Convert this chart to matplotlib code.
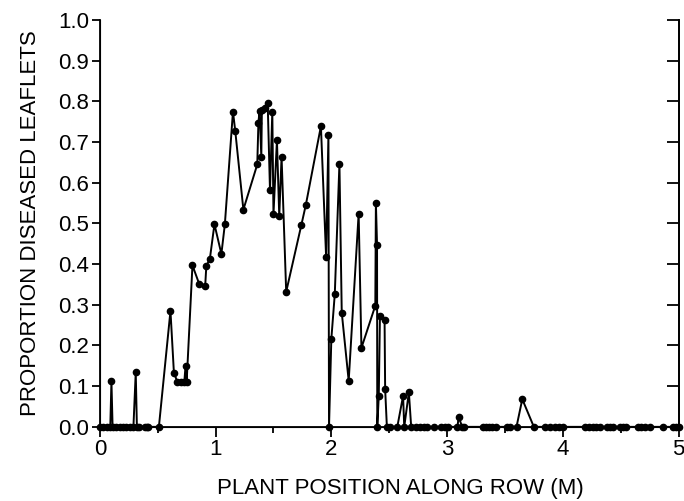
import numpy as np
import matplotlib
matplotlib.use("Agg")
import matplotlib.pyplot as plt
from matplotlib.ticker import MultipleLocator, FormatStrFormatter

# proportion of diseased leaflets along a row
position = [
    0.00, 0.03, 0.06, 0.09, 0.10, 0.11, 0.14, 0.17, 0.20, 0.23, 0.26, 0.29,
    0.31, 0.32, 0.34, 0.39, 0.41, 0.42, 0.51, 0.61, 0.64, 0.67, 0.70, 0.73,
    0.74, 0.75, 0.80, 0.86, 0.91, 0.92, 0.95, 0.99, 1.05, 1.08, 1.15, 1.17,
    1.24, 1.36, 1.37, 1.38, 1.395, 1.40, 1.43, 1.45, 1.47, 1.49, 1.50, 1.53,
    1.55, 1.57, 1.61, 1.74, 1.78, 1.91, 1.955, 1.975, 1.98, 2.00, 2.03, 2.07,
    2.09, 2.15, 2.236, 2.26, 2.38, 2.385, 2.395, 2.397, 2.41, 2.42, 2.46,
    2.465, 2.48, 2.505, 2.57, 2.62, 2.63, 2.67, 2.69, 2.73, 2.77, 2.80, 2.83,
    2.89, 2.95, 2.98, 3.01, 3.09, 3.10, 3.13, 3.15, 3.31, 3.34, 3.36, 3.39,
    3.42, 3.52, 3.54, 3.60, 3.65, 3.75, 3.85, 3.89, 3.93, 3.97, 4.00, 4.19,
    4.23, 4.26, 4.29, 4.32, 4.38, 4.41, 4.43, 4.49, 4.52, 4.55, 4.65, 4.68,
    4.71, 4.75, 4.87, 4.95, 4.98, 5.00,
]
proportion = [
    0.0, 0.0, 0.0, 0.0, 0.112, 0.0, 0.0, 0.0, 0.0, 0.0, 0.0, 0.0,
    0.134, 0.0, 0.0, 0.0, 0.0, 0.0, 0.0, 0.285, 0.132, 0.111, 0.111, 0.111,
    0.149, 0.111, 0.397, 0.350, 0.346, 0.396, 0.412, 0.498, 0.425, 0.498, 0.775, 0.727,
    0.534, 0.645, 0.748, 0.777, 0.664, 0.780, 0.785, 0.797, 0.581, 0.775, 0.522, 0.705,
    0.518, 0.664, 0.332, 0.495, 0.546, 0.739, 0.417, 0.718, 0.0, 0.216, 0.327, 0.647,
    0.281, 0.113, 0.524, 0.194, 0.298, 0.551, 0.448, 0.0, 0.076, 0.272, 0.263,
    0.093, 0.0, 0.0, 0.0, 0.076, 0.0, 0.085, 0.0, 0.0, 0.0, 0.0, 0.0,
    0.0, 0.0, 0.0, 0.0, 0.0, 0.025, 0.0, 0.0, 0.0, 0.0, 0.0, 0.0,
    0.0, 0.0, 0.0, 0.0, 0.068, 0.0, 0.0, 0.0, 0.0, 0.0, 0.0, 0.0,
    0.0, 0.0, 0.0, 0.0, 0.0, 0.0, 0.0, 0.0, 0.0, 0.0, 0.0, 0.0,
    0.0, 0.0, 0.0, 0.0, 0.0, 0.0,
]

plt.rcParams['font.family'] = ['Liberation Sans', 'DejaVu Sans']

fig = plt.figure(figsize=(6.84, 5.01), dpi=100)
ax = fig.add_axes([0.146, 0.148, 0.846, 0.812])

ax.plot(position, proportion, color='black', lw=1.4, marker='o', ms=4.5,
        clip_on=False, zorder=3)

ax.set_xlim(0, 5)
ax.set_ylim(0, 1.0)
ax.xaxis.set_major_locator(MultipleLocator(1))
ax.xaxis.set_minor_locator(MultipleLocator(0.5))
ax.yaxis.set_major_locator(MultipleLocator(0.1))
ax.yaxis.set_major_formatter(FormatStrFormatter('%.1f'))

ax.spines['top'].set_visible(False)
for s in ['left', 'right', 'bottom']:
    ax.spines[s].set_linewidth(1.3)

ax.tick_params(axis='x', which='major', direction='out', length=7, width=1.3,
               labelsize=16, pad=2)
ax.tick_params(axis='x', which='minor', direction='out', length=4, width=1.3)
ax.tick_params(axis='y', direction='out', length=6, width=1.3, labelsize=16, pad=2)

# inward ticks on the right side only
ax2 = ax.twinx()
ax2.set_ylim(0, 1.0)
ax2.yaxis.set_major_locator(MultipleLocator(0.1))
ax2.tick_params(axis='y', direction='in', length=9, width=1.3, labelright=False)
ax2.spines['top'].set_visible(False)
ax2.spines['right'].set_linewidth(1.3)

ax.set_xlabel('PLANT POSITION ALONG ROW (M)', fontsize=16)
ax.xaxis.set_label_coords(0.52, -0.125)
ax.set_ylabel('PROPORTION DISEASED LEAFLETS', fontsize=16, labelpad=12)

fig.savefig('out.png', dpi=100)
